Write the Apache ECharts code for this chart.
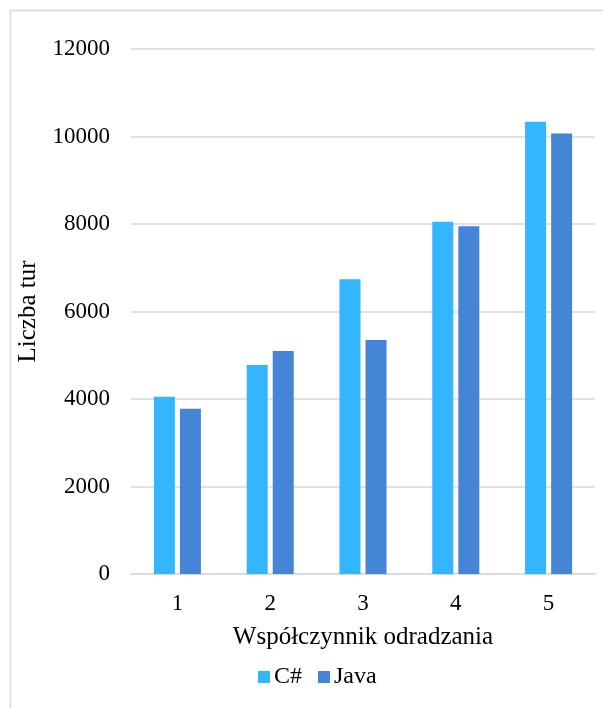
<!DOCTYPE html>
<html>
<head>
<meta charset="utf-8">
<script src="https://cdn.jsdelivr.net/npm/echarts@6/dist/echarts.min.js"></script>
<style>
  html, body { margin: 0; padding: 0; background: #fff; }
  #chart { width: 603px; height: 708px; }
</style>
</head>
<body>
<div id="chart"></div>
<script>
// Współczynnik odradzania vs. liczba tur, C# and Java
const categories = ['1', '2', '3', '4', '5'];
const csharpValues = [4050, 4780, 6740, 8050, 10340];
const javaValues = [3780, 5100, 5350, 7950, 10070];
const yTicks = { min: 0, max: 12000, interval: 2000 };

const serif = '"Liberation Serif", "Times New Roman", serif';

const chart = echarts.init(document.getElementById('chart'), null, { renderer: 'canvas' });
chart.setOption({
  backgroundColor: '#ffffff',
  animation: false,
  graphic: [{
    type: 'rect',
    shape: { x: 10.5, y: 10.5, width: 640, height: 740 },
    style: { fill: 'none', stroke: '#d9d9d9', lineWidth: 1.5 },
    silent: true
  }],
  grid: { left: 131, right: 8, top: 49, bottom: 134, containLabel: false },
  legend: {
    data: ['C#', 'Java'],
    left: 253,
    top: 660,
    itemWidth: 12,
    itemHeight: 12,
    itemGap: 16,
    icon: 'rect',
    textStyle: { fontFamily: serif, fontSize: 24, color: '#000', padding: [0, 0, 0, -1] }
  },
  xAxis: {
    type: 'category',
    data: categories,
    name: 'Współczynnik odradzania',
    nameLocation: 'middle',
    nameGap: 51,
    nameTextStyle: { fontFamily: serif, fontSize: 25, color: '#000' },
    axisLine: { show: true, lineStyle: { color: '#d9d9d9', width: 1.5 } },
    axisTick: { show: false },
    axisLabel: { fontFamily: serif, fontSize: 23, color: '#000', margin: 18 }
  },
  yAxis: {
    type: 'value',
    min: yTicks.min,
    max: yTicks.max,
    interval: yTicks.interval,
    name: 'Liczba tur',
    nameLocation: 'middle',
    nameGap: 90,
    nameTextStyle: { fontFamily: serif, fontSize: 25, color: '#000' },
    axisLine: { show: false },
    axisTick: { show: false },
    splitLine: { lineStyle: { color: '#d9d9d9', width: 1.5 } },
    axisLabel: {
      fontFamily: serif, fontSize: 23, color: '#000', margin: 21,
      formatter: (v) => String(v)
    }
  },
  series: [
    {
      name: 'C#',
      type: 'bar',
      data: csharpValues,
      barWidth: 21,
      barGap: '24%',
      itemStyle: { color: '#33B5FF' }
    },
    {
      name: 'Java',
      type: 'bar',
      data: javaValues,
      barWidth: 21,
      itemStyle: { color: '#4585D5' }
    }
  ]
});
</script>
</body>
</html>
